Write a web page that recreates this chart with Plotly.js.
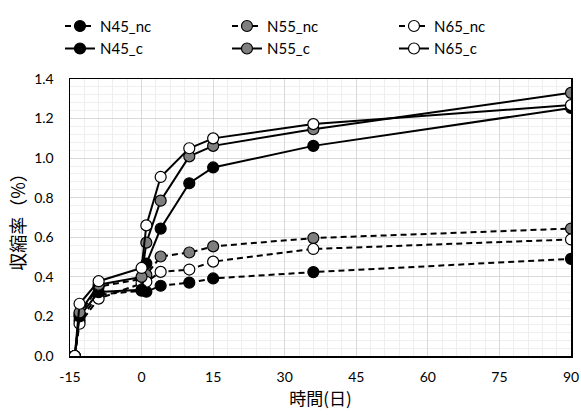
<!DOCTYPE html>
<html>
<head>
<meta charset="utf-8">
<script src="https://cdn.plot.ly/plotly-3.0.1.min.js"></script>
<style>html,body{margin:0;padding:0;background:#fff;}#chart{width:581px;height:415px;}</style>
</head>
<body>
<div id="chart"></div>
<script>
const days = [-14, -13, -9, 0, 1, 4, 10, 15, 36, 90];
const N45_nc = [0, 0.18, 0.31, 0.33, 0.325, 0.355, 0.371, 0.392, 0.424, 0.491];
const N55_nc = [0, 0.21, 0.35, 0.39, 0.41, 0.503, 0.523, 0.554, 0.596, 0.644];
const N65_nc = [0, 0.163, 0.29, 0.37, 0.375, 0.425, 0.437, 0.477, 0.541, 0.589];
const N45_c = [0, 0.20, 0.323, 0.335, 0.467, 0.644, 0.873, 0.953, 1.062, 1.254];
const N55_c = [0, 0.22, 0.36, 0.40, 0.573, 0.785, 1.009, 1.062, 1.146, 1.33];
const N65_c = [0, 0.264, 0.378, 0.445, 0.66, 0.905, 1.05, 1.10, 1.172, 1.268];
const xTicks = [-15, 0, 15, 30, 45, 60, 75, 90];

const fills = {N45: '#000000', N55: '#7f7f7f', N65: '#ffffff'};
function tr(name, y, fill, dashed) {
  return {
    x: days, y: y, name: name, type: 'scatter', mode: 'lines+markers',
    line: {color: '#000', width: 2, dash: dashed ? '6px,4px' : 'solid'},
    marker: {size: 11, color: fill, line: {color: '#000', width: 1.2}}
  };
}
const data = [
  tr('N45_nc', N45_nc, fills.N45, true),
  tr('N55_nc', N55_nc, fills.N55, true),
  tr('N65_nc', N65_nc, fills.N65, true),
  tr('N45_c', N45_c, fills.N45, false),
  tr('N55_c', N55_c, fills.N55, false),
  tr('N65_c', N65_c, fills.N65, false)
];
const tickFont = {family: 'Lato, "Noto Sans", sans-serif', size: 14, color: '#000'};
const layout = {
  width: 581, height: 415,
  margin: {l: 70, r: 10, t: 65, b: 59},
  paper_bgcolor: '#fff', plot_bgcolor: '#fff',
  showlegend: true,
  legend: {orientation: 'h', x: -0.02, xanchor: 'left', y: 1.25, yanchor: 'top',
    entrywidth: 122, entrywidthmode: 'pixels', bgcolor: 'rgba(0,0,0,0)',
    font: {family: 'Lato, "Noto Sans", sans-serif', size: 15, color: '#000'}, tracegroupgap: 0},
  xaxis: {
    range: [-15, 90], tickvals: xTicks, ticktext: xTicks.map(String),
    showline: true, linecolor: '#000', linewidth: 1.5, mirror: true,
    showgrid: true, gridcolor: '#d9d9d9', gridwidth: 1, zeroline: false,
    minor: {dtick: 3, tick0: -15, showgrid: true, gridcolor: '#efefef', gridwidth: 1},
    ticks: '', tickfont: tickFont, ticklabelstandoff: 8,
    title: {text: '時間(日)', font: {family: '"Noto Sans CJK JP", sans-serif', size: 17, color: '#000'}, standoff: 4}
  },
  yaxis: {
    range: [0, 1.4], dtick: 0.2, tick0: 0, tickformat: '.1f',
    showline: true, linecolor: '#000', linewidth: 1.5, mirror: true,
    showgrid: true, gridcolor: '#d9d9d9', gridwidth: 1, zeroline: false,
    minor: {dtick: 0.04, tick0: 0, showgrid: true, gridcolor: '#efefef', gridwidth: 1},
    ticks: '', tickfont: tickFont, ticklabelstandoff: 12,
    title: {text: '収縮率（%）', font: {family: '"Noto Sans CJK JP", sans-serif', size: 18, color: '#000'}, standoff: 4}
  }
};
Plotly.newPlot('chart', data, layout, {displayModeBar: false, staticPlot: true});
</script>
</body>
</html>
